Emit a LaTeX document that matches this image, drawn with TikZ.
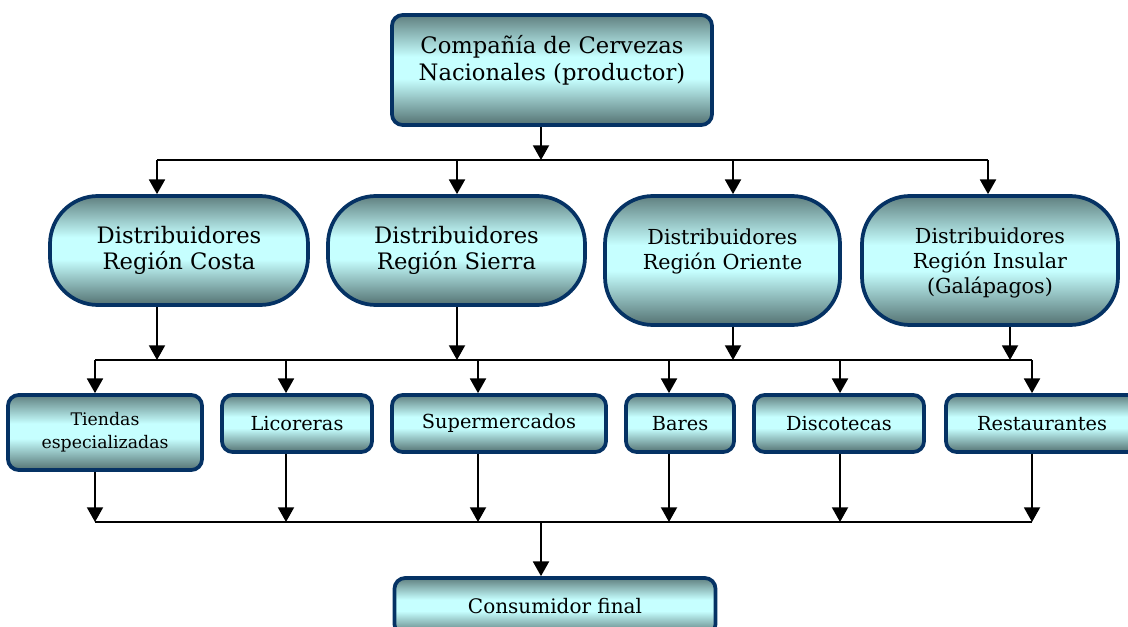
\documentclass[tikz,border=0pt]{standalone}
\usepackage{fontspec}
\setmainfont{DejaVu Serif}
\usepackage{xcolor}
\usetikzlibrary{arrows.meta}

\definecolor{boxdark}{RGB}{84,114,114}
\definecolor{boxtop}{RGB}{96,128,128}
\definecolor{boxlight}{RGB}{198,255,255}
\definecolor{boxline}{RGB}{5,50,100}
\pgfdeclareverticalshading{beer}{100bp}{color(0bp)=(boxdark); color(25bp)=(boxdark); color(46bp)=(boxlight); color(56bp)=(boxlight); color(75bp)=(boxtop); color(100bp)=(boxtop)}

\begin{document}
\begin{tikzpicture}[
    x=0.75pt, y=-0.75pt,
    box/.style={rectangle, draw=boxline, line width=2.8pt, rounded corners=8pt, shading=beer, align=center, inner sep=2pt},
    region/.style={box, rounded corners=36pt, minimum width=192pt},
    shop/.style={box, minimum height=42.75pt, font=\fontsize{14.5}{17}\selectfont},
    arrow/.style={-{Triangle[length=11pt,width=12pt]}, line width=1.4pt},
    bar/.style={line width=1.1pt}
]
\useasboundingbox (0,0) rectangle (1128,627);
\clip (0,0) rectangle (1128,627);

% producer
\node[box, minimum width=240pt, minimum height=82.5pt, text depth=18pt, font=\fontsize{17}{20}\selectfont] (prod) at (552,70) {Compañía de Cervezas\\Nacionales (productor)};

% distributors
\node[region, minimum width=193.5pt, minimum height=81.75pt, font=\fontsize{17}{20}\selectfont] (costa) at (179,250.5) {Distribuidores\\Región Costa};
\node[region, minimum width=192.75pt, minimum height=81.75pt, font=\fontsize{17}{20}\selectfont] (sierra) at (456.5,250.5) {Distribuidores\\Región Sierra};
\node[region, minimum width=176.25pt, minimum height=96.75pt, text depth=17pt, font=\fontsize{15.5}{19}\selectfont] (oriente) at (722.5,260.5) {Distribuidores\\Región Oriente};
\node[region, minimum width=192pt, minimum height=96.75pt, text depth=0pt, font=\fontsize{15.5}{19}\selectfont] (insular) at (990,260.5) {Distribuidores\\Región Insular\\(Galápagos)};

% retail
\node[box, minimum width=145.5pt, minimum height=56.25pt, font=\fontsize{13}{17}\selectfont] (tiendas) at (105,432.5) {Tiendas\\especializadas};
\node[shop, minimum width=112.5pt] (licor) at (297,423.5) {Licoreras};
\node[shop, minimum width=160.5pt] (super) at (499,423.5) {Supermercados};
\node[shop, minimum width=81pt] (bares) at (680,423.5) {Bares};
\node[shop, minimum width=127.5pt] (disco) at (839,423.5) {Discotecas};
\node[shop, minimum width=144pt] (rest) at (1042,423.5) {Restaurantes};

% consumer
\node[box, minimum width=240.75pt, minimum height=42.75pt, font=\fontsize{15}{18}\selectfont] (cons) at (555,606.5) {Consumidor final};

% junctions
\coordinate (tp) at (541,160);
\coordinate (t1) at (157,160);
\coordinate (t2) at (457,160);
\coordinate (t3) at (733,160);
\coordinate (t4) at (988,160);
\coordinate (m1) at (157,360);
\coordinate (m2) at (457,360);
\coordinate (m3) at (733,360);
\coordinate (m4) at (1010,360);
\coordinate (d1) at (95,360);
\coordinate (d2) at (286,360);
\coordinate (d3) at (478,360);
\coordinate (d4) at (669,360);
\coordinate (d5) at (840,360);
\coordinate (d6) at (1032,360);
\coordinate (b1) at (95,522);
\coordinate (b2) at (286,522);
\coordinate (b3) at (478,522);
\coordinate (b4) at (669,522);
\coordinate (b5) at (840,522);
\coordinate (b6) at (1032,522);
\coordinate (bc) at (541,522);

% producer to distributors
\draw[arrow] (prod.south -| tp) -- (tp);
\draw[bar] (t1) -- (t4);
\draw[arrow] (t1) -- (costa.north -| t1);
\draw[arrow] (t2) -- (sierra.north -| t2);
\draw[arrow] (t3) -- (oriente.north -| t3);
\draw[arrow] (t4) -- (insular.north -| t4);

% distributors to retail
\draw[arrow] (costa.south -| m1) -- (m1);
\draw[arrow] (sierra.south -| m2) -- (m2);
\draw[arrow] (oriente.south -| m3) -- (m3);
\draw[arrow] (insular.south -| m4) -- (m4);
\draw[bar] (d1) -- (d6);
\draw[arrow] (d1) -- (tiendas.north -| d1);
\draw[arrow] (d2) -- (licor.north -| d2);
\draw[arrow] (d3) -- (super.north -| d3);
\draw[arrow] (d4) -- (bares.north -| d4);
\draw[arrow] (d5) -- (disco.north -| d5);
\draw[arrow] (d6) -- (rest.north -| d6);

% retail to consumer
\draw[arrow] (tiendas.south -| b1) -- (b1);
\draw[arrow] (licor.south -| b2) -- (b2);
\draw[arrow] (super.south -| b3) -- (b3);
\draw[arrow] (bares.south -| b4) -- (b4);
\draw[arrow] (disco.south -| b5) -- (b5);
\draw[arrow] (rest.south -| b6) -- (b6);
\draw[bar] (b1) -- (b6);
\draw[arrow] (bc) -- (cons.north -| bc);
\end{tikzpicture}
\end{document}
